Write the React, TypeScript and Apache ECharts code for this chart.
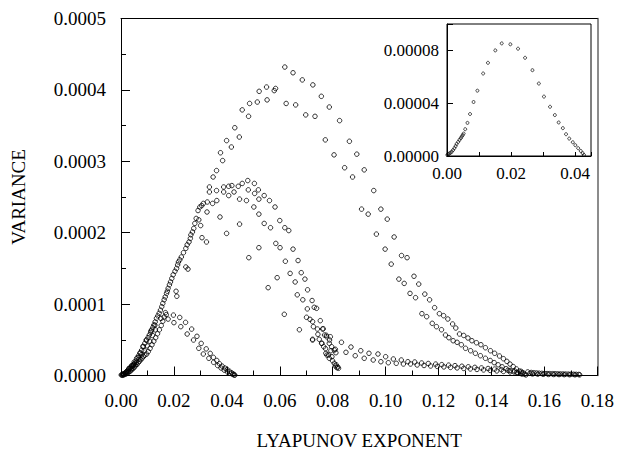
import { useEffect, useRef } from 'react';
import * as echarts from 'echarts';

// ---- data (x: Lyapunov exponent, y: variance) ----
const smallHumpPts: number[][] = [
  [0.0001, 0.0000008], [0.0004, 0.0000012], [0.0007, 0.0000018], [0.0011, 0.0000025], [0.0015, 0.0000033],
  [0.0019, 0.0000045], [0.0023, 0.0000059], [0.0027, 0.0000075], [0.0030, 0.0000091], [0.0035, 0.0000107],
  [0.0039, 0.0000122], [0.0043, 0.0000135], [0.0046, 0.0000147], [0.0049, 0.0000158], [0.0052, 0.0000170],
  [0.0057, 0.0000203], [0.0064, 0.0000251], [0.0072, 0.0000318], [0.0083, 0.0000409], [0.0095, 0.0000495],
  [0.0113, 0.0000625], [0.0128, 0.0000706], [0.0151, 0.0000800], [0.0171, 0.0000853], [0.0198, 0.0000846],
  [0.0222, 0.0000813], [0.0244, 0.0000744], [0.0267, 0.0000650], [0.0287, 0.0000549], [0.0303, 0.0000450],
  [0.0322, 0.0000373], [0.0337, 0.0000310], [0.0349, 0.0000254], [0.0362, 0.0000211], [0.0372, 0.0000165],
  [0.0382, 0.0000132], [0.0393, 0.0000104], [0.0401, 0.0000082], [0.0410, 0.0000059], [0.0418, 0.0000038],
  [0.0424, 0.0000021], [0.0428, 0.0000008],
];

const smallHumpLowerPts: number[][] = [
  [0.0178, 0.0000790], [0.0200, 0.0000740], [0.0226, 0.0000684], [0.0250, 0.0000581], [0.0274, 0.0000497],
  [0.0294, 0.0000381], [0.0311, 0.0000301], [0.0332, 0.0000241], [0.0350, 0.0000185], [0.0365, 0.0000140],
  [0.0378, 0.0000105], [0.0390, 0.0000075], [0.0402, 0.0000050], [0.0413, 0.0000030], [0.0422, 0.0000015],
  [0.0430, 0.0000005],
];

const risingEnvelopePts: number[][] = [
  [0.0010, 0.0000020], [0.0020, 0.0000050], [0.0030, 0.0000100], [0.0040, 0.0000140], [0.0050, 0.0000190],
  [0.0059, 0.0000241], [0.0066, 0.0000275], [0.0072, 0.0000311], [0.0078, 0.0000355], [0.0084, 0.0000403],
  [0.0090, 0.0000450], [0.0097, 0.0000497], [0.0102, 0.0000530], [0.0107, 0.0000567], [0.0112, 0.0000600],
  [0.0116, 0.0000637], [0.0120, 0.0000670], [0.0124, 0.0000707], [0.0129, 0.0000750], [0.0134, 0.0000801],
  [0.0139, 0.0000835], [0.0144, 0.0000871], [0.0149, 0.0000915], [0.0154, 0.0000964], [0.0158, 0.0001010],
  [0.0163, 0.000106], [0.0167, 0.000110], [0.0172, 0.000115], [0.0175, 0.000118], [0.0178, 0.000122],
  [0.0183, 0.000127], [0.0187, 0.000131], [0.0192, 0.000136], [0.0197, 0.000141], [0.0204, 0.000146],
  [0.0210, 0.000150], [0.0214, 0.000155], [0.0217, 0.000159], [0.0222, 0.000162], [0.0228, 0.000166],
  [0.0236, 0.000172], [0.0245, 0.000178], [0.0250, 0.000183], [0.0257, 0.000187], [0.0262, 0.000192],
  [0.0264, 0.000197], [0.0270, 0.000201], [0.0275, 0.000206], [0.0279, 0.000213], [0.0284, 0.000220],
  [0.0294, 0.000218], [0.0301, 0.000210], [0.0298, 0.000236], [0.0305, 0.000238],
];

const risingLowerPts: number[][] = [
  [0.0005, 0.0000003], [0.0010, 0.0000008], [0.0015, 0.0000015], [0.0020, 0.0000025], [0.0025, 0.0000035],
  [0.0030, 0.0000048], [0.0035, 0.0000062], [0.0040, 0.0000078], [0.0045, 0.0000095], [0.0050, 0.0000115],
  [0.0055, 0.0000135], [0.0060, 0.0000155], [0.0065, 0.0000178], [0.0070, 0.0000200], [0.0075, 0.0000222],
  [0.0080, 0.0000245], [0.0085, 0.0000265], [0.0090, 0.0000285], [0.0097, 0.0000300], [0.0103, 0.0000335],
  [0.0110, 0.0000380], [0.0117, 0.0000430], [0.0124, 0.0000480], [0.0131, 0.0000530], [0.0138, 0.0000585],
  [0.0145, 0.0000640], [0.0152, 0.0000700], [0.0158, 0.0000760], [0.0163, 0.0000820], [0.0168, 0.0000880],
  [0.0008, 0.0000012], [0.0018, 0.0000030], [0.0028, 0.0000060], [0.0038, 0.0000095], [0.0048, 0.0000135],
  [0.0058, 0.0000180], [0.0068, 0.0000230], [0.0078, 0.0000290], [0.0088, 0.0000350], [0.0099, 0.0000415],
  [0.0109, 0.0000480], [0.0119, 0.0000560], [0.0130, 0.0000640],
];

const mediumHumpPts: number[][] = [
  [0.0291, 0.000231], [0.0311, 0.000241], [0.0325, 0.000229], [0.0326, 0.000243], [0.0334, 0.000257],
  [0.0334, 0.000264], [0.0346, 0.000241], [0.0361, 0.000259], [0.0362, 0.000245], [0.0388, 0.000257],
  [0.0388, 0.000264], [0.0407, 0.000252], [0.0407, 0.000265], [0.0419, 0.000266], [0.0427, 0.000257],
  [0.0443, 0.000265], [0.0458, 0.000269],
  [0.0479, 0.000273], [0.0481, 0.000260], [0.0504, 0.000269], [0.0505, 0.000255], [0.0519, 0.000260],
  [0.0521, 0.000247], [0.0541, 0.000252], [0.0561, 0.000245], [0.0582, 0.000236], [0.0600, 0.000217],
  [0.0619, 0.000207], [0.0634, 0.000203], [0.0650, 0.000177], [0.0669, 0.000161], [0.0681, 0.000144],
  [0.0695, 0.000135], [0.0705, 0.000120], [0.0722, 0.000105], [0.0739, 0.0000941], [0.0753, 0.0000768],
  [0.0764, 0.0000655], [0.0776, 0.0000563], [0.0788, 0.0000497], [0.0796, 0.0000403], [0.0806, 0.0000357],
  [0.0812, 0.0000319],
  [0.0448, 0.000247], [0.0474, 0.000245], [0.0502, 0.000236], [0.0521, 0.000226], [0.0541, 0.000213],
  [0.0565, 0.000207], [0.0585, 0.000185], [0.0601, 0.000179], [0.0621, 0.000160], [0.0639, 0.000143],
  [0.0658, 0.000131], [0.0666, 0.000113], [0.0687, 0.000106], [0.0704, 0.0000933], [0.0724, 0.0000754],
  [0.0742, 0.0000651], [0.0759, 0.0000451], [0.0773, 0.0000375], [0.0784, 0.0000287],
  [0.0727, 0.0000684], [0.0762, 0.0000651], [0.0744, 0.0000577], [0.0769, 0.0000567], [0.0777, 0.0000543],
  [0.0791, 0.0000543], [0.0724, 0.0000497], [0.0749, 0.0000507], [0.0758, 0.0000451], [0.0766, 0.0000403],
  [0.0787, 0.0000451], [0.0774, 0.0000311], [0.0793, 0.0000347], [0.0810, 0.0000367], [0.0778, 0.0000287],
  [0.0787, 0.0000241], [0.0797, 0.0000263], [0.0799, 0.0000207], [0.0806, 0.0000171], [0.0810, 0.0000133],
  [0.0816, 0.0000109], [0.0822, 0.0000101], [0.0813, 0.0000150], [0.0819, 0.0000120],
];

const bigHumpPts: number[][] = [
  [0.0348, 0.000278], [0.0361, 0.000287], [0.0376, 0.000312], [0.0384, 0.000301], [0.0399, 0.000329],
  [0.0417, 0.000320], [0.0430, 0.000347], [0.0447, 0.000334], [0.0458, 0.000372], [0.0482, 0.000363],
  [0.0486, 0.000381], [0.0515, 0.000383], [0.0522, 0.000398], [0.0550, 0.000404], [0.0552, 0.000386],
  [0.0579, 0.000399], [0.0584, 0.000402], [0.0619, 0.000432], [0.0624, 0.000381], [0.0650, 0.000424],
  [0.0660, 0.000379], [0.0685, 0.000414], [0.0698, 0.000365], [0.0725, 0.000407], [0.0733, 0.000363],
  [0.0757, 0.000391], [0.0772, 0.000330], [0.0787, 0.000376], [0.0805, 0.000309], [0.0826, 0.000357],
  [0.0845, 0.000291], [0.0863, 0.000328], [0.0875, 0.000278], [0.0891, 0.000310], [0.0919, 0.000288],
  [0.0909, 0.000233], [0.0934, 0.000226], [0.0955, 0.000259], [0.0965, 0.000198], [0.0982, 0.000233],
  [0.0998, 0.000177], [0.1006, 0.000219], [0.1021, 0.000156], [0.1032, 0.000194], [0.1050, 0.000135],
  [0.1060, 0.000168], [0.1070, 0.000129], [0.1081, 0.000165], [0.1092, 0.000115], [0.1107, 0.000139],
  [0.1113, 0.000109], [0.1125, 0.000128], [0.1137, 0.0000866], [0.1148, 0.000114], [0.1155, 0.0000824],
  [0.1166, 0.000106], [0.1176, 0.0000731], [0.1185, 0.0000950], [0.1192, 0.0000684], [0.1203, 0.0000866],
  [0.1211, 0.0000641], [0.1219, 0.0000838], [0.1226, 0.0000567], [0.1235, 0.0000791], [0.1239, 0.0000529],
  [0.1253, 0.0000721], [0.1255, 0.0000487], [0.1265, 0.0000665], [0.1270, 0.0000465], [0.1279, 0.0000581],
  [0.1286, 0.0000431], [0.1295, 0.0000561], [0.1302, 0.0000381], [0.1311, 0.0000525], [0.1321, 0.0000347],
  [0.1326, 0.0000487], [0.1339, 0.0000311], [0.1343, 0.0000459], [0.1358, 0.0000277], [0.1360, 0.0000431],
  [0.1377, 0.0000389], [0.1377, 0.0000241], [0.1396, 0.0000347], [0.1395, 0.0000210], [0.1412, 0.0000311],
  [0.1410, 0.0000180], [0.1430, 0.0000273], [0.1425, 0.0000150], [0.1445, 0.0000235], [0.1440, 0.0000122],
  [0.1458, 0.0000198], [0.1455, 0.0000095], [0.1470, 0.0000160], [0.1470, 0.0000070], [0.1482, 0.0000125],
  [0.1485, 0.0000050], [0.1494, 0.0000092], [0.1500, 0.0000035], [0.1505, 0.0000062], [0.1515, 0.0000020],
  [0.1515, 0.0000038], [0.1525, 0.0000018], [0.1530, 0.0000008],
];

const tailPts: number[][] = [
  [0.0833, 0.0000465], [0.0850, 0.0000325], [0.0869, 0.0000399], [0.0885, 0.0000277], [0.0906, 0.0000347],
  [0.0919, 0.0000241], [0.0937, 0.0000311], [0.0953, 0.0000217], [0.0971, 0.0000301], [0.0982, 0.0000193],
  [0.1000, 0.0000263], [0.1010, 0.0000179], [0.1029, 0.0000231], [0.1040, 0.0000171], [0.1059, 0.0000217],
  [0.1067, 0.0000161], [0.1084, 0.0000193], [0.1094, 0.0000161], [0.1110, 0.0000189], [0.1119, 0.0000147],
  [0.1136, 0.0000175], [0.1145, 0.0000140], [0.1161, 0.0000168], [0.1170, 0.0000133], [0.1189, 0.0000160],
  [0.1195, 0.0000127], [0.1212, 0.0000152], [0.1220, 0.0000120], [0.1238, 0.0000145], [0.1245, 0.0000113],
  [0.1262, 0.0000138], [0.1270, 0.0000106], [0.1288, 0.0000130], [0.1295, 0.0000099], [0.1312, 0.0000122],
  [0.1320, 0.0000092], [0.1337, 0.0000114], [0.1345, 0.0000085], [0.1362, 0.0000106], [0.1370, 0.0000078],
  [0.1387, 0.0000098], [0.1395, 0.0000071], [0.1412, 0.0000090], [0.1420, 0.0000064], [0.1437, 0.0000082],
  [0.1445, 0.0000057], [0.1462, 0.0000074], [0.1470, 0.0000050], [0.1487, 0.0000066], [0.1495, 0.0000043],
  [0.1512, 0.0000058], [0.1520, 0.0000036], [0.1537, 0.0000050], [0.1545, 0.0000030],
];

const flatTailPts: number[][] = [
  [0.1550, 0.0000042], [0.1560, 0.0000038], [0.1570, 0.0000035], [0.1580, 0.0000032], [0.1590, 0.0000030],
  [0.1600, 0.0000028], [0.1610, 0.0000027], [0.1620, 0.0000026], [0.1630, 0.0000025], [0.1640, 0.0000024],
  [0.1650, 0.0000023], [0.1660, 0.0000022], [0.1670, 0.0000021], [0.1680, 0.0000020], [0.1690, 0.0000019],
  [0.1700, 0.0000018], [0.1710, 0.0000017], [0.1720, 0.0000016], [0.1730, 0.0000015],
  [0.1555, 0.0000022], [0.1575, 0.0000019], [0.1595, 0.0000017], [0.1615, 0.0000015], [0.1635, 0.0000014],
  [0.1655, 0.0000013], [0.1675, 0.0000012], [0.1695, 0.0000011], [0.1715, 0.0000010], [0.1733, 0.0000009],
];

const scatterPts: number[][] = [
  [0.0483, 0.000165], [0.0556, 0.000123], [0.0617, 0.0000857], [0.0674, 0.0000641], [0.0724, 0.0000507],
  [0.0374, 0.000222], [0.0399, 0.000199], [0.0448, 0.000212], [0.0521, 0.000179], [0.0590, 0.000137],
  [0.0245, 0.000152], [0.0253, 0.000149], [0.0208, 0.000118], [0.0211, 0.000111], [0.0306, 0.000193],
  [0.0323, 0.000187], [0.0701, 0.0000815], [0.0714, 0.0000787], [0.0730, 0.0000955],
];

const MAIN_X = { min: 0, max: 0.18, interval: 0.02 };
const MAIN_Y = { min: 0, max: 0.0005, interval: 0.0001 };
const INSET_X = { min: 0, max: 0.045, interval: 0.01 };
const INSET_Y = { min: 0, max: 0.0001, interval: 0.00004 };

const FONT = 'Liberation Serif';

export default function App() {
  const ref = useRef<HTMLDivElement>(null);
  useEffect(() => {
    document.body.style.margin = '0';
    if (!ref.current) return;
    const chart = echarts.init(ref.current, undefined, { renderer: 'svg' });
    const black = '#000';
    const mainSym = {
      type: 'scatter',
      xAxisIndex: 0,
      yAxisIndex: 0,
      symbol: 'circle',
      symbolSize: 4.5,
      itemStyle: { color: 'rgba(0,0,0,0)', borderColor: black, borderWidth: 1 },
      silent: true,
    };
    const mainSets = [smallHumpPts, smallHumpLowerPts, risingEnvelopePts, risingLowerPts, mediumHumpPts, bigHumpPts, tailPts, flatTailPts, scatterPts];
    chart.setOption({
      animation: false,
      backgroundColor: '#fff',
      textStyle: { fontFamily: FONT },
      grid: [
        { left: 121, top: 18.5, width: 478, height: 357, show: false },
        { left: 447, top: 24, width: 144, height: 132, show: true, borderColor: black, borderWidth: 1, backgroundColor: '#fff' },
      ],
      xAxis: [
        {
          gridIndex: 0, type: 'value', position: 'bottom', ...MAIN_X,
          axisLine: { show: true, onZero: false, lineStyle: { color: black, width: 1 } },
          axisTick: { show: true, inside: true, length: 9, lineStyle: { color: black } },
          minorTick: { show: true, splitNumber: 2, length: 5, lineStyle: { color: black } },
          splitLine: { show: false }, minorSplitLine: { show: false },
          axisLabel: { formatter: (v: number) => v.toFixed(2), fontFamily: FONT, fontSize: 19, color: black, margin: 15 },
          name: 'LYAPUNOV EXPONENT', nameLocation: 'middle', nameGap: 55,
          nameTextStyle: { fontFamily: FONT, fontSize: 19, color: black },
        },
        {
          gridIndex: 0, type: 'value', position: 'top', ...MAIN_X,
          axisLine: { show: true, onZero: false, lineStyle: { color: black, width: 1 } },
          axisTick: { show: false }, axisLabel: { show: false }, splitLine: { show: false },
        },
        {
          gridIndex: 1, type: 'value', position: 'bottom', ...INSET_X,
          axisLine: { show: true, onZero: false, lineStyle: { color: black, width: 1 } },
          axisTick: { show: true, inside: true, length: 4, lineStyle: { color: black } },
          splitLine: { show: false },
          axisLabel: {
            formatter: (v: number) => {
              const k = v / 0.02;
              return Math.abs(k - Math.round(k)) < 1e-6 && v < 0.0449 ? v.toFixed(2) : '';
            },
            fontFamily: FONT, fontSize: 17, color: black, margin: 9,
          },
        },
      ],
      yAxis: [
        {
          gridIndex: 0, type: 'value', position: 'left', ...MAIN_Y,
          axisLine: { show: true, onZero: false, lineStyle: { color: black, width: 1 } },
          axisTick: { show: true, inside: true, length: 9, lineStyle: { color: black } },
          minorTick: { show: true, splitNumber: 2, length: 5, lineStyle: { color: black } },
          splitLine: { show: false }, minorSplitLine: { show: false },
          axisLabel: { formatter: (v: number) => v.toFixed(4), fontFamily: FONT, fontSize: 19, color: black, margin: 15 },
          name: 'VARIANCE', nameLocation: 'middle', nameGap: 93, nameRotate: 90,
          nameTextStyle: { fontFamily: FONT, fontSize: 19, color: black },
        },
        {
          gridIndex: 0, type: 'value', position: 'right', ...MAIN_Y,
          axisLine: { show: true, onZero: false, lineStyle: { color: '#666', width: 1.5 } },
          axisTick: { show: false }, axisLabel: { show: false }, splitLine: { show: false },
        },
        {
          gridIndex: 1, type: 'value', position: 'left', ...INSET_Y,
          axisLine: { show: true, onZero: false, lineStyle: { color: black, width: 1 } },
          axisTick: { show: true, inside: true, length: 6, lineStyle: { color: black } },
          splitLine: { show: false },
          axisLabel: {
            formatter: (v: number) => (v < 0.0000999 ? v.toFixed(5) : ''),
            fontFamily: FONT, fontSize: 17, color: black, margin: 8,
          },
        },
      ],
      series: [
        ...mainSets.map((d) => ({ ...mainSym, data: d })),
        {
          type: 'scatter', xAxisIndex: 2, yAxisIndex: 2, symbol: 'circle', symbolSize: 3,
          itemStyle: { color: 'rgba(0,0,0,0)', borderColor: black, borderWidth: 0.9 },
          silent: true, data: smallHumpPts,
        },
      ],
    });
    return () => chart.dispose();
  }, []);
  return <div ref={ref} style={{ width: 617, height: 458 }} />;
}
